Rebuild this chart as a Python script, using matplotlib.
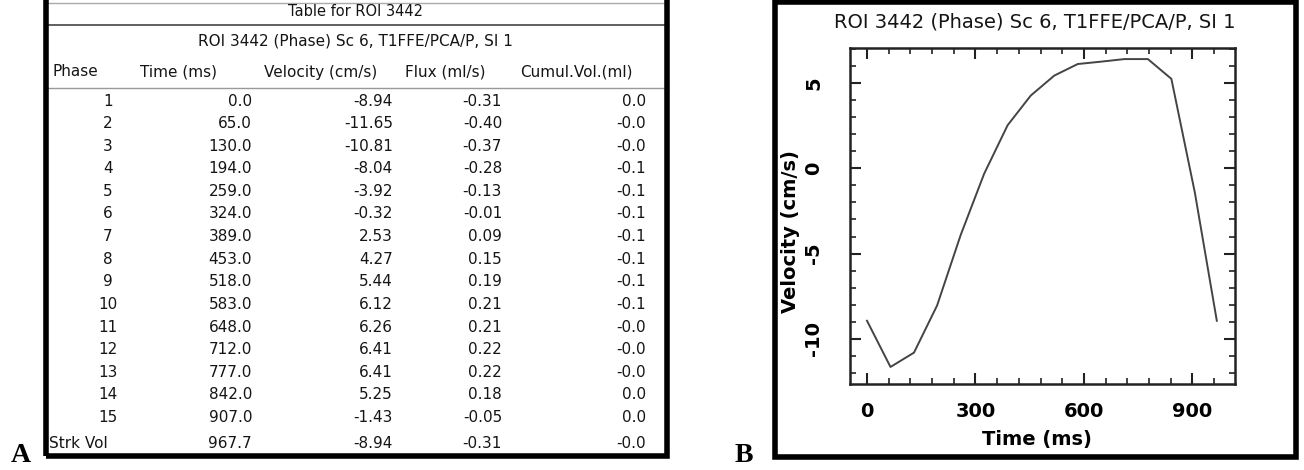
import matplotlib
matplotlib.use("Agg")
import matplotlib.pyplot as plt
from matplotlib.patches import Rectangle
from matplotlib.ticker import MultipleLocator

plt.rcParams["axes.unicode_minus"] = False

# table data (panel A)
phase = ["1", "2", "3", "4", "5", "6", "7", "8", "9", "10", "11", "12", "13", "14", "15", "Strk Vol"]
time_ms = [0.0, 65.0, 130.0, 194.0, 259.0, 324.0, 389.0, 453.0, 518.0, 583.0, 648.0, 712.0, 777.0, 842.0, 907.0, 967.7]
velocity = [-8.94, -11.65, -10.81, -8.04, -3.92, -0.32, 2.53, 4.27, 5.44, 6.12, 6.26, 6.41, 6.41, 5.25, -1.43, -8.94]
flux = [-0.31, -0.40, -0.37, -0.28, -0.13, -0.01, 0.09, 0.15, 0.19, 0.21, 0.21, 0.22, 0.22, 0.18, -0.05, -0.31]
cumul = ["0.0", "-0.0", "-0.0", "-0.1", "-0.1", "-0.1", "-0.1", "-0.1", "-0.1", "-0.1",
         "-0.0", "-0.0", "-0.0", "0.0", "0.0", "-0.0"]
headers = ["Phase", "Time (ms)", "Velocity (cm/s)", "Flux (ml/s)", "Cumul.Vol.(ml)"]
title_a = "Table for ROI 3442"
subtitle = "ROI 3442 (Phase) Sc 6, T1FFE/PCA/P, SI 1"

W, H = 1304, 470
fig = plt.figure(figsize=(W / 100, H / 100), dpi=100)
fig.patch.set_facecolor("white")

font = ["DejaVu Sans"]
ink = "#151515"


def fx(x):
    return x / W


def fy(y):
    return 1 - y / H


def ptext(x, y, s, **kw):
    kw.setdefault("family", font)
    kw.setdefault("va", "center")
    kw.setdefault("color", ink)
    fig.text(fx(x), fy(y), s, **kw)


# ---- panel A: table ----
ptext(355, 12, title_a, ha="center", fontsize=10.5)
ptext(355, 41, subtitle, ha="center", fontsize=11)
fig.add_artist(plt.Line2D([fx(48), fx(665)], [fy(25), fy(25)], color="#444", lw=1.2))
fig.add_artist(plt.Line2D([fx(48), fx(665)], [fy(3), fy(3)], color="#aaa", lw=1))
fig.add_artist(plt.Line2D([fx(48), fx(665)], [fy(88), fy(88)], color="#999", lw=1))

hx = [52, 178, 321, 445, 576]
for i, h in enumerate(headers):
    ptext(hx[i], 72, h, ha="left" if i == 0 else "center", fontsize=11)

for i in range(len(phase)):
    y = 101 + 22.6 * i
    if phase[i] == "Strk Vol":
        y += 3
        ptext(49, y, phase[i], ha="left", fontsize=11)
    else:
        ptext(108, y, phase[i], ha="center", fontsize=11)
    ptext(252, y, f"{time_ms[i]:.1f}", ha="right", fontsize=11)
    ptext(393, y, f"{velocity[i]:.2f}", ha="right", fontsize=11)
    ptext(502, y, f"{flux[i]:.2f}", ha="right", fontsize=11)
    ptext(646, y, cumul[i], ha="right", fontsize=11)

# black frames
fig.add_artist(Rectangle((fx(46), fy(456)), fx(667) - fx(46), fy(-10) - fy(456),
                         fill=False, ec="black", lw=4, zorder=5))
fig.add_artist(Rectangle((fx(775), fy(457)), fx(1296) - fx(775), fy(2) - fy(457),
                         fill=False, ec="black", lw=4, zorder=5))

fig.text(fx(21), fy(456), "A", family="Liberation Serif", fontweight="bold",
         fontsize=20, ha="center", va="center")
fig.text(fx(744), fy(456), "B", family="Liberation Serif", fontweight="bold",
         fontsize=20, ha="center", va="center")

# ---- panel B: velocity curve ----
ax = fig.add_axes([fx(850), fy(384), fx(1235) - fx(850), fy(48) - fy(384)])
ax.plot(time_ms, velocity, color="#444", lw=1.4)
ax.set_xlim(-47, 1018)
ax.set_ylim(-12.65, 7.06)
ax.xaxis.set_major_locator(MultipleLocator(300))
ax.xaxis.set_minor_locator(MultipleLocator(60))
ax.yaxis.set_major_locator(MultipleLocator(5))
ax.yaxis.set_minor_locator(MultipleLocator(1))
ax.tick_params(which="both", direction="in", top=True, right=True, color="#222")
ax.tick_params(which="major", length=8, width=1.5)
ax.tick_params(which="minor", length=4, width=1.2)
ax.tick_params(axis="x", pad=20)
ax.tick_params(axis="y", pad=26)
for s in ax.spines.values():
    s.set_linewidth(1.8)
    s.set_color("#222")
for lab in ax.get_xticklabels():
    lab.set_family(font)
    lab.set_fontweight("bold")
    lab.set_fontsize(14)
    lab.set_va("center")
for lab in ax.get_yticklabels():
    lab.set_family(font)
    lab.set_fontweight("bold")
    lab.set_fontsize(14)
    lab.set_rotation(90)
    lab.set_va("center")
    lab.set_ha("center")
ax.set_xlabel("Time (ms)", family=font, fontweight="bold", fontsize=14)
ax.xaxis.set_label_coords((1037 - 850) / 385, -(440 - 384) / 336)
ax.xaxis.label.set_va("center")
ax.set_ylabel("Velocity (cm/s)", family=font, fontweight="bold", fontsize=14)
ax.yaxis.set_label_coords(-(850 - 791) / 385, (384 - 232) / 336)
ax.yaxis.label.set_va("center")
fig.text(fx(1035), fy(22), subtitle, family=font, fontsize=14, ha="center",
         va="center", color=ink)

fig.savefig("out.png", dpi=100)
